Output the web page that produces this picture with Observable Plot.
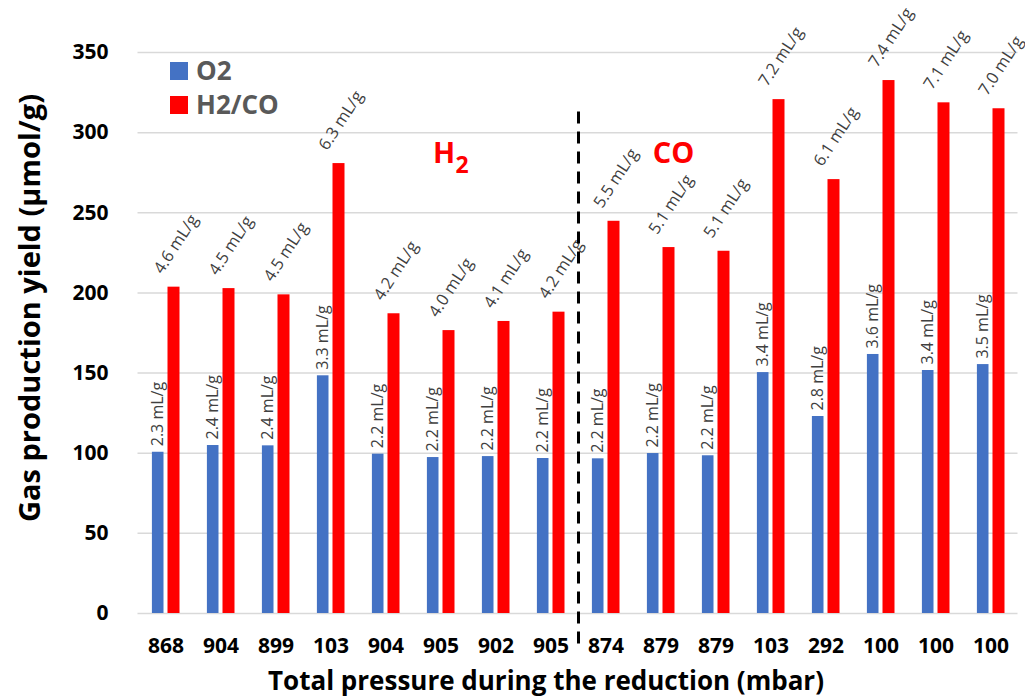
<!DOCTYPE html>
<html>
<head>
<meta charset="utf-8">
<script src="https://cdn.jsdelivr.net/npm/d3@7"></script>
<script src="https://cdn.jsdelivr.net/npm/@observablehq/plot@0.6"></script>
<style>
  html, body { margin: 0; padding: 0; background: white; }
  #chart { width: 1025px; height: 697px; }
</style>
</head>
<body>
<div id="chart"></div>
<script>
// ---- data ----
const pressures = ["868","904","899","103","904","905","902","905","874","879","879","103","292","100","100","100"];
const o2Values = [100.6,104.8,104.6,148.3,99.4,97.3,97.9,96.7,96.5,99.8,98.4,150.3,122.9,161.6,151.6,155.3];
const h2coValues = [203.6,202.7,198.8,280.7,187,176.5,182.2,188,244.7,228.3,226,320.6,270.7,332.5,318.6,314.9];
const o2Labels = ["2.3","2.4","2.4","3.3","2.2","2.2","2.2","2.2","2.2","2.2","2.2","3.4","2.8","3.6","3.4","3.5"];
const h2coLabels = ["4.6","4.5","4.5","6.3","4.2","4.0","4.1","4.2","5.5","5.1","5.1","7.2","6.1","7.4","7.1","7.0"];
const yTicks = [0, 50, 100, 150, 200, 250, 300, 350];
const seriesNames = ["O2", "H2/CO"];
const seriesColors = ["#4472C4", "#FF0000"];
const dividerAfter = 7;       // dashed separator after the 8th group
const dividerRange = [-19, 314];
const regionLabels = [{text: "H", idx: 5, y: 286.7}, {text: "CO", idx: 9, y: 286.7}];

// ---- build tables ----
const idx = pressures.map((_, i) => i);
const o2Rows = idx.map(i => ({i, v: o2Values[i], label: o2Labels[i] + " mL/g"}));
const h2Rows = idx.map(i => ({i, v: h2coValues[i], label: h2coLabels[i] + " mL/g"}));

const W = 1025, H = 697;
const mL = 137.5, mR = 7.5, mT = 52, mB = 84;
const band = (W - mL - mR) / pressures.length;

const labelColor = "#404040";

const chart = Plot.plot({
  width: W,
  height: H,
  marginLeft: mL,
  marginRight: mR,
  marginTop: mT,
  marginBottom: mB,
  style: {fontFamily: "'Open Sans', sans-serif", background: "white", overflow: "visible"},
  x: {type: "band", domain: idx, padding: 0, axis: null},
  y: {domain: [0, 350], axis: null},
  marks: [
    Plot.gridY(yTicks, {stroke: "#d9d9d9", strokeOpacity: 1, strokeWidth: 1.5}),
    Plot.axisY(yTicks, {tickSize: 0, tickPadding: 29.5, fontSize: 21, fontWeight: "bold", fill: "black", label: null}),
    Plot.axisX(idx, {tickSize: 0, tickPadding: 25, fontSize: 21, fontWeight: "bold", fill: "black", tickFormat: i => pressures[i], label: null}),
    Plot.barY(o2Rows, {x: "i", y: "v", fill: seriesColors[0], insetLeft: band / 2 - 13.6, insetRight: band / 2 + 2}),
    Plot.barY(h2Rows, {x: "i", y: "v", fill: seriesColors[1], insetLeft: band / 2 + 2, insetRight: band / 2 - 14}),
    Plot.text(o2Rows, {x: "i", y: "v", text: "label", rotate: -90, textAnchor: "start", lineAnchor: "middle", dx: -7.8, dy: -6, fontSize: 16, fill: labelColor}),
    Plot.text(h2Rows, {x: "i", y: "v", text: "label", rotate: -57, textAnchor: "middle", lineAnchor: "middle", dx: 10, dy: -43, fontSize: 16.5, fill: labelColor}),
    Plot.ruleX([dividerAfter], {x: d => d, y1: dividerRange[0], y2: dividerRange[1], dx: band / 2, stroke: "black", strokeWidth: 3, strokeDasharray: "12,8"}),
    // region labels
    Plot.text([regionLabels[0]], {x: "idx", y: "y", text: "text", dx: 3, fill: "#FF0000", fontSize: 29, fontWeight: "bold", lineAnchor: "middle"}),
    Plot.text([regionLabels[0]], {x: "idx", y: "y", text: () => "2", dx: 21, dy: 11.5, fill: "#FF0000", fontSize: 23, fontWeight: "bold", lineAnchor: "middle"}),
    Plot.text([regionLabels[1]], {x: "idx", y: "y", text: "text", dx: 12.5, fill: "#FF0000", fontSize: 29, fontWeight: "bold", lineAnchor: "middle"}),
    // axis titles
    Plot.text(["Gas production yield (µmol/g)"], {frameAnchor: "left", rotate: -90, textAnchor: "middle", lineAnchor: "middle", dx: -107.5, dy: -25, fontSize: 29, fontWeight: "bold", fill: "black"}),
    Plot.text(["Total pressure during the reduction (mbar)"], {frameAnchor: "bottom", textAnchor: "middle", lineAnchor: "middle", dx: -32, dy: 68, fontSize: 26, fontWeight: "bold", fill: "black"})
  ]
});

// Legend inside the plot area (top-left)
const svg = d3.select(chart);
const legend = svg.append("g").attr("font-family", "'Open Sans', sans-serif").attr("text-anchor", "start");
seriesNames.forEach((name, k) => {
  const cy = 71 + k * 34;
  legend.append("rect").attr("x", 170).attr("y", cy - 9).attr("width", 18).attr("height", 18).attr("fill", seriesColors[k]);
  legend.append("text").attr("x", 196).attr("y", cy).attr("dy", "0.35em").attr("font-size", 26).attr("font-weight", "bold").attr("fill", "#595959").text(name);
});

document.getElementById("chart").appendChild(chart);
</script>
</body>
</html>
